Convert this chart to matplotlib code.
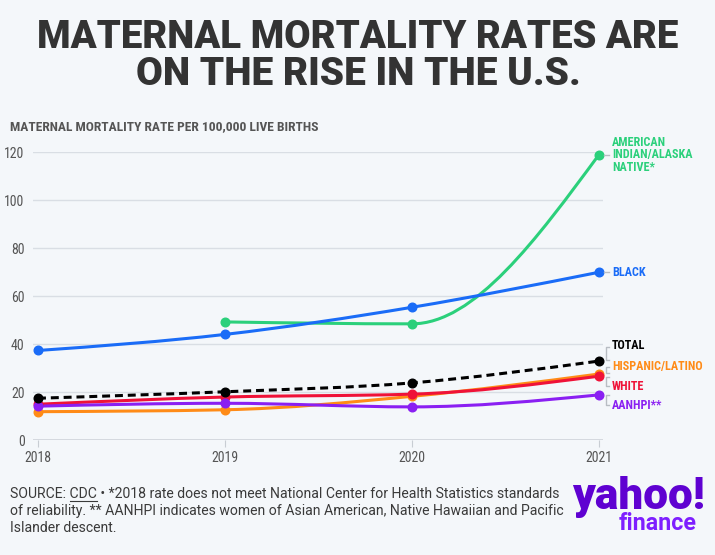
# Maternal mortality rates chart
import numpy as np
import matplotlib
matplotlib.use("Agg")
import matplotlib.pyplot as plt
import matplotlib.font_manager as fm
from matplotlib.path import Path
from matplotlib.patches import PathPatch
from matplotlib.lines import Line2D

years = [2018, 2019, 2020, 2021]
aian = [None, 49.2, 48.4, 118.9]
black = [37.3, 44.0, 55.3, 69.9]
total = [17.4, 20.1, 23.8, 32.9]
hispanic = [11.8, 12.6, 18.2, 27.5]
white = [14.9, 17.9, 19.1, 26.6]
aanhpi = [14.1, 15.3, 13.8, 18.8]

series_names = ["AMERICAN\nINDIAN/ALASKA\nNATIVE*", "BLACK", "TOTAL",
                "HISPANIC/LATINO", "WHITE", "AANHPI**"]
label_y = [118.9, 69.9, 39.2, 30.8, 22.5, 14.2]

# pick a narrow font if one is there
fonts = fm.fontManager.ttflist
names = {f.name for f in fonts}
narrow = dict(fontfamily="Roboto")
for cand in ["Roboto Condensed", "Liberation Sans Narrow", "Open Sans Condensed"]:
    if cand in names:
        narrow = dict(fontfamily=cand)
        break
else:
    if any(f.name == "DejaVu Sans" and f.stretch == "condensed" for f in fonts):
        narrow = dict(fontfamily="DejaVu Sans", fontstretch="condensed")
body = dict(fontfamily="Roboto")

W, H = 715, 555
fig = plt.figure(figsize=(W / 100, H / 100), dpi=100)
bg = "#f4f7fa"
fig.patch.set_facecolor(bg)
r = fig.canvas.get_renderer()


def fx(px):
    return px / W


def fy(py):
    return 1 - py / H


def fit(t, width):
    # scale font size so the text spans the wanted pixel width
    w = t.get_window_extent(r).width
    t.set_fontsize(t.get_fontsize() * width / w)
    return t


ax = fig.add_axes([fx(33), fy(440), fx(603) - fx(33), fy(152) - fy(440)])
ax.set_facecolor(bg)
ax.set_xlim(2018 - 5 / 187, 2021 + 4 / 187)
ax.set_ylim(0, 120)
for s in ax.spines.values():
    s.set_visible(False)
ax.set_yticks([0, 20, 40, 60, 80, 100, 120])
ax.set_xticks(years)
ax.grid(axis="y", color="#d9dee4", lw=1.0)
ax.axhline(0, color="#cfd4da", lw=1.2, zorder=1)
ax.tick_params(axis="y", length=0, pad=6, labelsize=10, labelcolor="#555555")
ax.tick_params(axis="x", length=5, color="#c8cdd3", pad=3, labelsize=10,
               labelcolor="#555555")
for lab in ax.get_xticklabels() + ax.get_yticklabels():
    lab.set_fontfamily(narrow["fontfamily"])
    if "fontstretch" in narrow:
        lab.set_fontstretch(narrow["fontstretch"])


def monotone(xs, ys):
    # d3 curveMonotoneX as cubic bezier segments
    xs = np.asarray(xs, float)
    ys = np.asarray(ys, float)
    n = len(xs)
    h = np.diff(xs)
    s = np.diff(ys) / h
    t = np.zeros(n)
    for i in range(1, n - 1):
        p = (s[i - 1] * h[i] + s[i] * h[i - 1]) / (h[i - 1] + h[i])
        t[i] = (np.sign(s[i - 1]) + np.sign(s[i])) * min(abs(s[i - 1]), abs(s[i]), 0.5 * abs(p))
    if n > 2:
        t[0] = (3 * s[0] - t[1]) / 2
        t[-1] = (3 * s[-1] - t[-2]) / 2
    else:
        t[0] = t[-1] = s[0]
    verts = [(xs[0], ys[0])]
    codes = [Path.MOVETO]
    for i in range(n - 1):
        dx = h[i] / 3
        verts += [(xs[i] + dx, ys[i] + dx * t[i]),
                  (xs[i + 1] - dx, ys[i + 1] - dx * t[i + 1]),
                  (xs[i + 1], ys[i + 1])]
        codes += [Path.CURVE4] * 3
    return Path(verts, codes)


colors = ["#2bd07b", "#1a6cf7", "#000000", "#ff8b17", "#ef1238", "#8a1ff2"]
data = [aian, black, total, hispanic, white, aanhpi]
order = [0, 1, 3, 4, 5, 2]
for k in order:
    vals = data[k]
    xs = [y for y, v in zip(years, vals) if v is not None]
    ys = [v for v in vals if v is not None]
    ls = (0, (2.6, 1.6)) if k == 2 else "-"
    patch = PathPatch(monotone(xs, ys), fill=False, edgecolor=colors[k], lw=2.2,
                      linestyle=ls, zorder=3 + k * 0.1, clip_on=False)
    ax.add_patch(patch)
    ax.plot(xs, ys, "o", color=colors[k], ms=6.2, zorder=4, clip_on=False)

# right-hand labels
probe = fig.text(0, 0, "HISPANIC/LATINO", fontsize=10, fontweight="bold", **narrow)
lab_size = 10 * 90 / probe.get_window_extent(r).width
probe.remove()
for k, name in enumerate(series_names):
    ax.annotate(name, xy=(2021, label_y[k]), xytext=(13, 0),
                textcoords="offset pixels", va="center", ha="left",
                color=colors[k], fontsize=lab_size, fontweight="bold",
                linespacing=0.95, annotation_clip=False, **narrow)

# connectors
gc = "#b8bdc3"
for py in (155, 272):
    fig.add_artist(Line2D([fx(604), fx(609)], [fy(py), fy(py)], color=gc, lw=1))
brackets = [(347, 360), (367, 373), (377, 386), (395, 405)]
for top, bot in brackets:
    fig.add_artist(Line2D([fx(609), fx(606), fx(606), fx(609)],
                          [fy(top), fy(top), fy(bot), fy(bot)], color=gc, lw=1))

# titles
fit(fig.text(fx(358), fy(48), "MATERNAL MORTALITY RATES ARE", ha="center",
             va="baseline", fontsize=30, fontweight="black", color="#333333",
             **body), 640)
fit(fig.text(fx(358), fy(85), "ON THE RISE IN THE U.S.", ha="center",
             va="baseline", fontsize=30, fontweight="black", color="#333333",
             **body), 443)
fit(fig.text(fx(10), fy(127), "MATERNAL MORTALITY RATE PER 100,000 LIVE BIRTHS",
             ha="left", va="center", fontsize=10, fontweight="bold",
             color="#555555", **narrow), 308)

# footer
foot = ["SOURCE: CDC \u2022 *2018 rate does not meet National Center for Health Statistics standards",
        "of reliability. ** AANHPI indicates women of Asian American, Native Hawaiian and Pacific",
        "Islander descent."]
t0 = fit(fig.text(fx(10), fy(494), foot[0], ha="left", va="center", fontsize=10,
                  color="#3a3a3a", **body), 548)
fsize = t0.get_fontsize()
for i, line in enumerate(foot[1:], start=1):
    fig.text(fx(10), fy(494 + 17 * i), line, ha="left", va="center",
             fontsize=fsize, color="#3a3a3a", **body)
# underline CDC
t1 = fig.text(0, 0, "SOURCE: ", fontsize=fsize, **body)
t2 = fig.text(0, 0, "SOURCE: CDC", fontsize=fsize, **body)
x0 = 10 + t1.get_window_extent(r).width
x1 = 10 + t2.get_window_extent(r).width
t1.remove()
t2.remove()
fig.add_artist(Line2D([fx(x0), fx(x1)], [fy(501), fy(501)], color="#3a3a3a", lw=0.8))

# logo
fit(fig.text(fx(639), fy(509), "yahoo!", ha="center", va="baseline", fontsize=27,
             fontweight="black", color="#5f01d1", **body), 133)
fit(fig.text(fx(658), fy(530), "finance", ha="center", va="baseline", fontsize=15,
             fontweight="bold", color="#7e1fff", **body), 78)

fig.savefig("out.png", dpi=100, facecolor=bg)
